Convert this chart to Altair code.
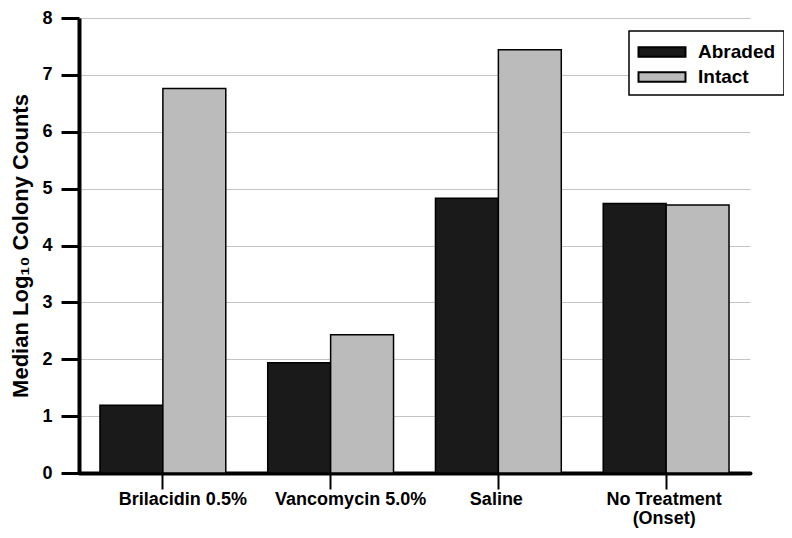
import altair as alt
import pandas as pd

categories = ["Brilacidin 0.5%", "Vancomycin 5.0%", "Saline", "No Treatment (Onset)"]
abraded = [1.19, 1.94, 4.83, 4.74]
intact = [6.76, 2.43, 7.44, 4.71]
groups = ["Abraded", "Intact"]
y_ticks = [0, 1, 2, 3, 4, 5, 6, 7, 8]

rows = []
for c, a, i in zip(categories, abraded, intact):
    rows.append({"cat": c, "grp": "Abraded", "val": a})
    rows.append({"cat": c, "grp": "Intact", "val": i})
df = pd.DataFrame(rows)

FONT = "Liberation Sans, Arial, Helvetica, sans-serif"

label_expr = "datum.label == 'No Treatment (Onset)' ? ['No Treatment', '(Onset)'] : datum.label"

chart = alt.Chart(df).mark_bar(stroke="black", strokeWidth=1.5).encode(
    x=alt.X("cat:N", sort=categories,
            scale=alt.Scale(paddingInner=0.25, paddingOuter=0.125),
            axis=alt.Axis(title=None, labelAngle=0, labelFont=FONT, labelFontSize=18,
                          labelFontWeight="bold", labelColor="black", labelPadding=1,
                          labelExpr=label_expr, labelLineHeight=19,
                          labelOffset={"condition": {"test": "datum.value == 'Brilacidin 0.5%' || datum.value == 'Vancomycin 5.0%'", "value": 20}, "value": -2},
                          tickSize=16, tickWidth=2, tickColor="black",
                          domainColor="black", domainWidth=4, domainCap="round",
                          grid=False)),
    xOffset=alt.XOffset("grp:N", sort=groups),
    y=alt.Y("val:Q", scale=alt.Scale(domain=[0, 8], nice=False),
            axis=alt.Axis(title="Median Log\u2081\u2080 Colony Counts", values=y_ticks,
                          titleFont=FONT, titleFontSize=22, titleFontWeight="bold",
                          titleColor="black", titlePadding=9,
                          labelFont=FONT, labelFontSize=18, labelFontWeight="bold",
                          labelColor="black", labelPadding=9,
                          tickSize=18, tickWidth=3, tickColor="black",
                          domainColor="black", domainWidth=4,
                          grid=True, gridColor="#c4c4c4", gridWidth=1)),
    color=alt.Color("grp:N", sort=groups,
                    scale=alt.Scale(domain=groups, range=["#1a1a1a", "#bbbbbb"]),
                    legend=alt.Legend(title=None, orient="none", legendX=550, legendY=13,
                                      symbolType="M-2,-0.4H2V0.4H-2Z", symbolSize=552,
                                      symbolOffset=12,
                                      symbolStrokeColor="black", symbolStrokeWidth=2,
                                      labelFont=FONT, labelFontSize=19, labelFontWeight="bold",
                                      labelColor="black", labelOffset=23,
                                      strokeColor="black", fillColor="white",
                                      padding=8, rowPadding=2)),
).properties(
    width=671, height=455,
    autosize="none",
    padding={"left": 71, "top": 10, "right": 34, "bottom": 57},
).configure_view(stroke=None).configure_legend(strokeWidth=1.5)

chart.save("out.html", embed_options={"renderer": "svg", "actions": False})
